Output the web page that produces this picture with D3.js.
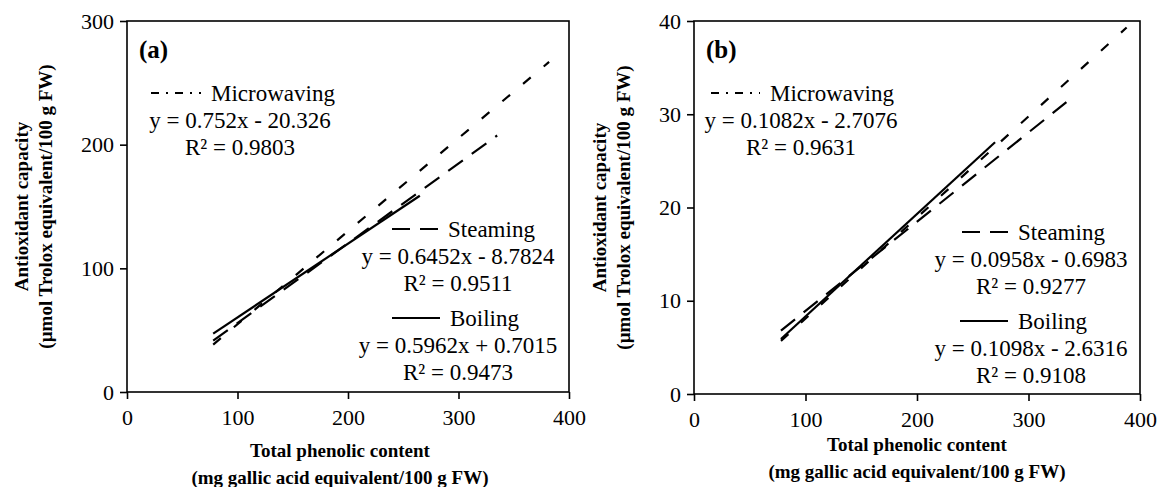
<!DOCTYPE html>
<html lang="en">
  <head>
      <meta charset="utf-8">
      <title>TPC vs antioxidant capacity</title>
      <script type="text/javascript" src="https://d3js.org/d3.v7.min.js"></script>
      <style type="text/css">
            body { margin: 0; background: #fff; }
            svg { display: block; font-family: "Liberation Serif", "Times New Roman", serif; }
            .axis path, .axis line { stroke: #000; stroke-width: 1.6; }
            .axis text { font-size: 22px; fill: #000; font-family: "Liberation Serif", serif; }
            .frame { fill: none; stroke: #000; stroke-width: 1.6; }
            .fit { fill: none; stroke: #000; stroke-width: 2.2; }
            .lbl { font-size: 23px; fill: #000; }
            .title { font-size: 19px; font-weight: bold; fill: #000; }
      </style>
  </head>
  <body>
      <script type="text/javascript">
        var w = 1160;
        var h = 487;

        // data
        var xTicks = [0, 100, 200, 300, 400];
        var yTicksA = [0, 100, 200, 300];
        var yTicksB = [0, 10, 20, 30, 40];
        var names = ["Microwaving", "Steaming", "Boiling"];

        // trendline end points [x, y]
        var microA = [[78, 38.3], [382, 266.9]];
        var steamA = [[78, 41.5], [335, 207.4]];
        var boilA  = [[78, 47.2], [265, 158.7]];
        var microB = [[78, 5.7], [388, 39.3]];
        var steamB = [[78, 6.8], [334, 31.3]];
        var boilB  = [[78, 5.9], [270, 27.0]];

        var eqA = ["y = 0.752x - 20.326", "y = 0.6452x - 8.7824", "y = 0.5962x + 0.7015"];
        var r2A = ["R\u00b2 = 0.9803", "R\u00b2 = 0.9511", "R\u00b2 = 0.9473"];
        var eqB = ["y = 0.1082x - 2.7076", "y = 0.0958x - 0.6983", "y = 0.1098x - 2.6316"];
        var r2B = ["R\u00b2 = 0.9631", "R\u00b2 = 0.9277", "R\u00b2 = 0.9108"];

        var plotDash = ["10,17", "18,11", null];
        var keyDash = ["8,7,2,7", "18,10", null];

        var svg = d3.select("body")
              .append("svg")
              .attr("width", w)
              .attr("height", h);

        function drawPanel(p) {
          var xScale = d3.scaleLinear().domain([0, 400]).range([p.left, p.right]);
          var yScale = d3.scaleLinear().domain([0, p.yMax]).range([p.bottom, p.top]);

          var g = svg.append("g");

          var xAxis = d3.axisBottom(xScale).tickValues(xTicks).tickSize(7).tickPadding(10).tickFormat(d3.format("d"));
          var yAxis = d3.axisLeft(yScale).tickValues(p.yTicks).tickSize(7).tickPadding(6).tickFormat(d3.format("d"));

          g.append("g")
              .attr("class", "axis")
              .attr("transform", "translate(0," + p.bottom + ")")
              .call(xAxis)
              .call(function(s) { s.select(".domain").remove(); });

          g.append("g")
              .attr("class", "axis")
              .attr("transform", "translate(" + p.left + ",0)")
              .call(yAxis)
              .call(function(s) { s.select(".domain").remove(); });

          g.append("rect")
              .attr("class", "frame")
              .attr("x", p.left)
              .attr("y", p.top)
              .attr("width", p.right - p.left)
              .attr("height", p.bottom - p.top);

          var line = d3.line()
              .x(function(d) { return xScale(d[0]); })
              .y(function(d) { return yScale(d[1]); });

          p.series.forEach(function(s, i) {
            g.append("path")
                .datum(s)
                .attr("class", "fit")
                .attr("stroke-dasharray", plotDash[i])
                .attr("d", line);
          });

          // panel letter
          g.append("text")
              .attr("x", p.left + 12)
              .attr("y", p.top + 37)
              .style("font-size", "25px")
              .style("font-weight", "bold")
              .text(p.letter);

          // legend keys + trendline labels
          p.keys.forEach(function(k, i) {
            g.append("line")
                .attr("class", "fit")
                .attr("x1", k.x1).attr("x2", k.x2)
                .attr("y1", k.y - 8).attr("y2", k.y - 8)
                .attr("stroke-dasharray", keyDash[i]);
            g.append("text")
                .attr("class", "lbl")
                .attr("x", k.x2 + 10)
                .attr("y", k.y)
                .text(names[i]);
            g.append("text")
                .attr("class", "lbl")
                .attr("x", k.cx)
                .attr("y", k.y + 27)
                .attr("text-anchor", "middle")
                .text(p.eq[i]);
            g.append("text")
                .attr("class", "lbl")
                .attr("x", k.cx)
                .attr("y", k.y + 54)
                .attr("text-anchor", "middle")
                .text(p.r2[i]);
          });

          // axis titles
          var cx = (p.left + p.right) / 2 + p.xTitleShift;
          g.append("text")
              .attr("class", "title")
              .attr("x", cx)
              .attr("y", p.xTitleY)
              .attr("text-anchor", "middle")
              .text("Total phenolic content");
          g.append("text")
              .attr("class", "title")
              .attr("x", cx)
              .attr("y", p.xTitleY + 27)
              .attr("text-anchor", "middle")
              .text("(mg gallic acid equivalent/100 g FW)");

          var cy = (p.top + p.bottom) / 2;
          g.append("text")
              .attr("class", "title")
              .attr("transform", "translate(" + p.yTitleX + "," + cy + ") rotate(-90)")
              .attr("text-anchor", "middle")
              .text("Antioxidant capacity");
          g.append("text")
              .attr("class", "title")
              .attr("transform", "translate(" + (p.yTitleX + 24) + "," + cy + ") rotate(-90)")
              .attr("text-anchor", "middle")
              .text("(\u00b5mol Trolox equivalent/100 g FW)");
        }

        drawPanel({
          left: 127, right: 569, top: 21, bottom: 392,
          yMax: 300, yTicks: yTicksA, letter: "(a)",
          series: [microA, steamA, boilA],
          eq: eqA, r2: r2A,
          yTitleX: 28, xTitleY: 457, xTitleShift: -8,
          keys: [
            { x1: 151, x2: 201, y: 101, cx: 240 },
            { x1: 392, x2: 438, y: 237, cx: 458 },
            { x1: 392, x2: 440, y: 326, cx: 458 }
          ]
        });

        drawPanel({
          left: 694, right: 1140, top: 21, bottom: 394,
          yMax: 40, yTicks: yTicksB, letter: "(b)",
          series: [microB, steamB, boilB],
          eq: eqB, r2: r2B,
          yTitleX: 606, xTitleY: 451, xTitleShift: 0,
          keys: [
            { x1: 711, x2: 760, y: 101, cx: 801 },
            { x1: 962, x2: 1008, y: 240, cx: 1031 },
            { x1: 960, x2: 1008, y: 329, cx: 1031 }
          ]
        });
      </script>
  </body>
</html>
